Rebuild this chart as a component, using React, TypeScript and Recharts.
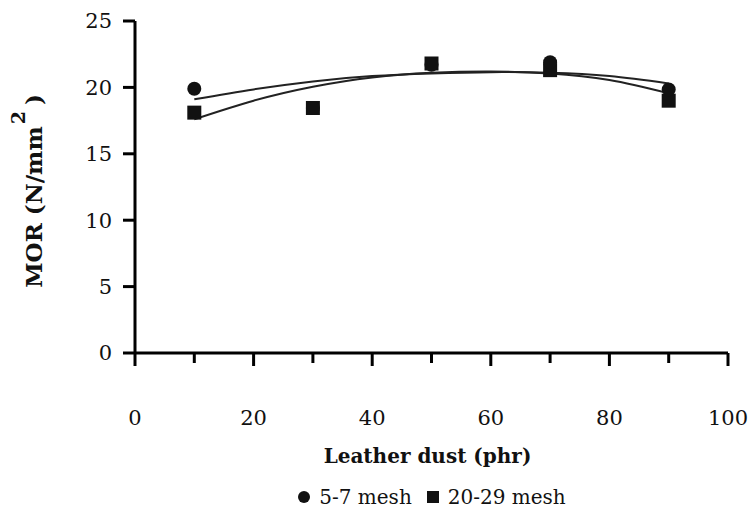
import React from "react";
import { ComposedChart, Scatter, Line, XAxis, YAxis, Legend } from "recharts";

// Measured points (x = leather dust, phr)
const dustLevels = [10, 30, 50, 70, 90];
const mesh57 = [19.9, 18.45, 21.7, 21.9, 19.85];
const mesh2029 = [18.1, 18.45, 21.8, 21.3, 19.0];

// Trend curves
const trendLevels = [10, 20, 30, 40, 50, 60, 70, 80, 90];
const trend57 = [19.1, 19.85, 20.45, 20.85, 21.05, 21.15, 21.1, 20.85, 20.3];
const trend2029 = [17.6, 19.0, 20.05, 20.75, 21.1, 21.2, 21.05, 20.55, 19.55];

const xTicks = [0, 10, 20, 30, 40, 50, 60, 70, 80, 90, 100];
const yTicks = [0, 5, 10, 15, 20, 25];
const seriesNames = ["5-7 mesh", "20-29 mesh"];

const FONT = "DejaVu Serif";

const data57 = dustLevels.map((x, i) => ({ x, y: mesh57[i] }));
const data2029 = dustLevels.map((x, i) => ({ x, y: mesh2029[i] }));
const trend57Data = trendLevels.map((x, i) => ({ x, y: trend57[i] }));
const trend2029Data = trendLevels.map((x, i) => ({ x, y: trend2029[i] }));

const TICK_GAP = 57;

const XTick = (props: any) => {
  const { x, y, payload } = props;
  const major = payload.value % 20 === 0;
  const axisY = y - TICK_GAP;
  return (
    <g>
      <line x1={x} x2={x} y1={axisY} y2={axisY + (major ? 13 : 10)} stroke="#000" strokeWidth={3} />
      {major && (
        <text x={x} y={y} dy="0.71em" textAnchor="middle" style={{ fontFamily: FONT, fontSize: 21 }} fill="#111">
          {payload.value}
        </text>
      )}
    </g>
  );
};

const YTick = (props: any) => {
  const { x, y, payload } = props;
  return (
    <text x={x} y={y} dy="0.35em" textAnchor="end" style={{ fontFamily: FONT, fontSize: 21 }} fill="#111">
      {payload.value}
    </text>
  );
};

const Circle = (props: any) => {
  const { cx, cy } = props;
  if (cx == null || cy == null) return null;
  return <circle cx={cx} cy={cy} r={7} fill="#111" />;
};

const Square = (props: any) => {
  const { cx, cy } = props;
  if (cx == null || cy == null) return null;
  return <rect x={cx - 7} y={cy - 7} width={14} height={14} fill="#111" />;
};

const LegendContent = () => (
  <div
    style={{
      display: "flex",
      justifyContent: "center",
      alignItems: "center",
      height: 30,
      fontFamily: FONT,
      fontSize: 20,
      color: "#111",
    }}
  >
    <svg width={14} height={14} style={{ marginRight: 8 }}>
      <circle cx={7} cy={7} r={6} fill="#111" />
    </svg>
    <span style={{ marginRight: 14 }}>{seriesNames[0]}</span>
    <svg width={14} height={14} style={{ marginRight: 8 }}>
      <rect x={1} y={1} width={12} height={12} fill="#111" />
    </svg>
    <span>{seriesNames[1]}</span>
  </div>
);

const XTitle = (props: any) => {
  const vb = props.viewBox || { x: 135, y: 353, width: 593 };
  return (
    <text
      x={vb.x + vb.width / 2 - 4}
      y={vb.y + 110}
      textAnchor="middle"
      style={{ fontFamily: FONT, fontSize: 20, fontWeight: "bold" }}
      fill="#111"
    >
      Leather dust (phr)
    </text>
  );
};

const YTitle = (props: any) => {
  const vb = props.viewBox || { x: 0, y: 21, width: 135, height: 332 };
  const cx = 42;
  const cy = vb.y + vb.height / 2 + 4;
  return (
    <text
      x={cx}
      y={cy}
      transform={`rotate(-90, ${cx}, ${cy})`}
      textAnchor="middle"
      style={{ fontFamily: FONT, fontSize: 23, fontWeight: "bold" }}
      fill="#111"
    >
      MOR (N/mm
      <tspan dy={-17} dx={2} style={{ fontSize: 19 }}>2</tspan>
      <tspan dy={17} dx={6}>)</tspan>
    </text>
  );
};

export default function App() {
  return (
    <div style={{ position: "absolute", left: 0, top: 0, background: "#fff", fontFamily: FONT }}>
      <ComposedChart
        width={748}
        height={516}
        margin={{ top: 21, right: 20, left: 0, bottom: 0 }}
        style={{ fontFamily: FONT }}
      >
        <XAxis
          type="number"
          dataKey="x"
          domain={[0, 100]}
          ticks={xTicks}
          interval={0}
          height={133}
          tickSize={0}
          tickMargin={TICK_GAP}
          tickLine={false}
          tick={<XTick />}
          axisLine={{ stroke: "#000", strokeWidth: 3 }}
          label={{ content: <XTitle /> }}
        />
        <YAxis
          type="number"
          domain={[0, 25]}
          ticks={yTicks}
          interval={0}
          width={135}
          tickSize={12}
          tickMargin={11}
          tickLine={{ stroke: "#000", strokeWidth: 3 }}
          axisLine={{ stroke: "#000", strokeWidth: 3 }}
          tick={<YTick />}
          label={{ content: <YTitle /> }}
        />
        <Legend
          verticalAlign="bottom"
          content={<LegendContent />}
          wrapperStyle={{ left: 135, width: 593, top: 482, height: 30 }}
        />
        <Line
          data={trend57Data}
          dataKey="y"
          type="natural"
          stroke="#222"
          strokeWidth={2}
          dot={false}
          isAnimationActive={false}
          legendType="none"
        />
        <Line
          data={trend2029Data}
          dataKey="y"
          type="natural"
          stroke="#222"
          strokeWidth={2}
          dot={false}
          isAnimationActive={false}
          legendType="none"
        />
        <Scatter name={seriesNames[1]} data={data2029} dataKey="y" shape={<Square />} isAnimationActive={false} />
        <Scatter name={seriesNames[0]} data={data57} dataKey="y" shape={<Circle />} isAnimationActive={false} />
      </ComposedChart>
    </div>
  );
}
